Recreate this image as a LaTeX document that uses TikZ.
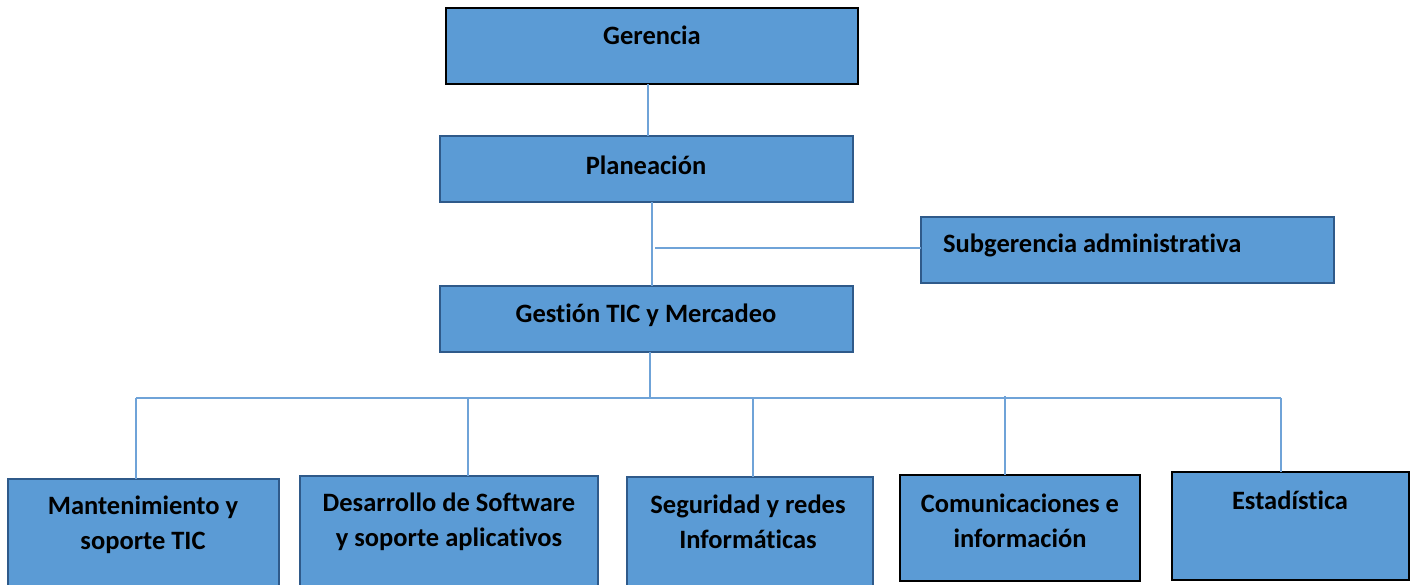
\documentclass[tikz,border=0pt]{standalone}
\usepackage{fontspec}
\setmainfont{Carlito}[Ligatures=NoCommon]
\definecolor{boxfill}{HTML}{5B9BD5}
\definecolor{boxedge}{HTML}{2F5A8A}
\definecolor{linkc}{HTML}{6FA3D8}
\begin{document}
\begin{tikzpicture}[x=1pt,y=-1pt,
  box/.style={rectangle,fill=boxfill,anchor=north west,inner sep=0pt,outer sep=0pt},
  edgeblack/.style={draw=black,line width=1.6pt},
  edgeblue/.style={draw=boxedge,line width=2.6pt},
  lbl/.style={font=\fontsize{26.5}{35}\selectfont\bfseries,align=center,inner sep=0pt},
  link/.style={draw=linkc,line width=1.5pt}]
\clip (0,0) rectangle (1417,584);
\fill[white] (0,0) rectangle (1417,584);
% boxes
\node[box,edgeblack,minimum width=412pt,minimum height=76pt] (ger) at (446,8) {};
\node[box,edgeblue,minimum width=413pt,minimum height=66pt] (pla) at (440,136) {};
\node[box,edgeblue,minimum width=413pt,minimum height=66pt] (sub) at (921,217) {};
\node[box,edgeblue,minimum width=413pt,minimum height=66pt] (ges) at (440,286) {};
\node[box,edgeblue,minimum width=271pt,minimum height=130pt] (man) at (8,479) {};
\node[box,edgeblue,minimum width=298pt,minimum height=130pt] (des) at (300,476) {};
\node[box,edgeblue,minimum width=246pt,minimum height=130pt] (seg) at (627,477) {};
\node[box,edgeblack,minimum width=240pt,minimum height=106pt] (com) at (900,475) {};
\node[box,edgeblack,minimum width=237pt,minimum height=108pt] (est) at (1172,472) {};
% labels
\node[lbl] (gerT) at (652,35) {Gerencia};
\node[lbl] (plaT) at (646,165) {Planeación};
\node[lbl,anchor=west] (subT) at (943,245) {Subgerencia administrativa};
\node[lbl] (gesT) at (646,315) {Gestión TIC y Mercadeo};
\node[lbl] (manT) at (143,525) {Mantenimiento y\\soporte TIC};
\node[lbl] (desT) at (449,522) {Desarrollo de Software\\y soporte aplicativos};
\node[lbl] (segT) at (748,522) {Seguridad y redes\\Informáticas};
\node[lbl] (comT) at (1020,521) {Comunicaciones e\\información};
\node[lbl] (estT) at (1290,500) {Estadística};
% connectors
\draw[link] (ger.south -| 648,0) -- (pla.north -| 648,0);
\draw[link] (pla.south -| 652,0) -- (ges.north -| 652,0);
\coordinate (j1) at (655,248);
\draw[link] (j1) -- (sub.west |- j1);
\coordinate (bus) at (650,398);
\draw[link] (ges.south -| bus) -- (bus);
\coordinate (busL) at (136,398);
\coordinate (busR) at (1281,398);
\draw[link] (busL) -- (busR);
\draw[link] (busL) -- (man.north -| busL);
\draw[link] (468,398) coordinate (d2) -- (des.north -| d2);
\draw[link] (753,398) coordinate (d3) -- (seg.north -| d3);
\draw[link] (1005,396) coordinate (d4) -- (com.north -| d4);
\draw[link] (busR) -- (est.north -| busR);
\end{tikzpicture}
\end{document}
